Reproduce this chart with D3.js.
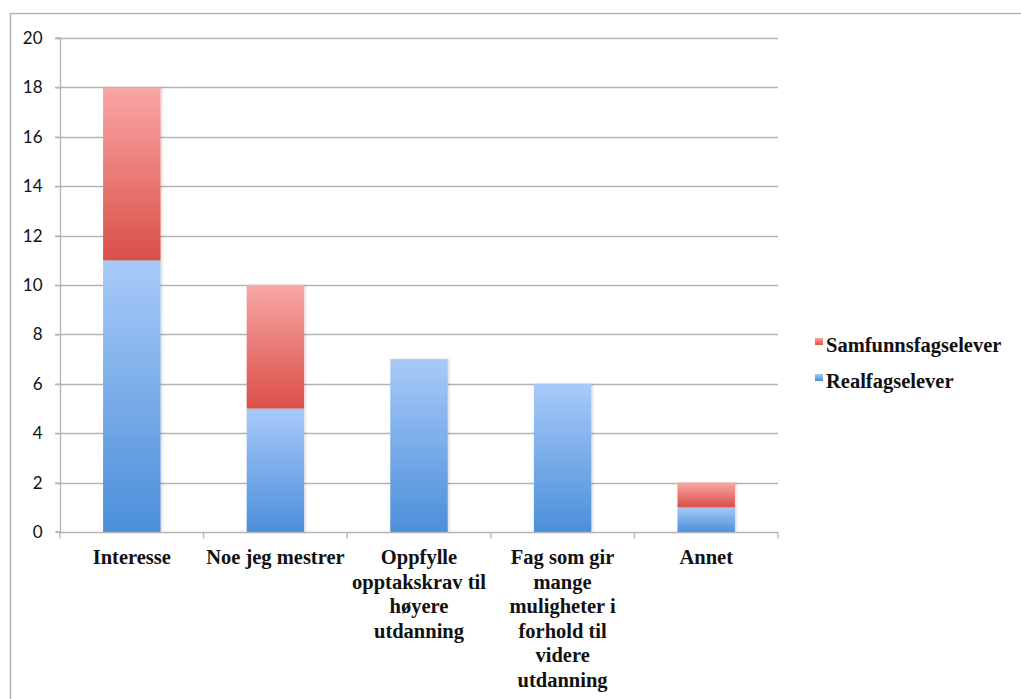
<!DOCTYPE html>
<html>
<head>
<meta charset="utf-8">
<script src="https://cdn.jsdelivr.net/npm/d3@7"></script>
<style>
  body { margin: 0; background: #fff; }
  svg { display: block; }
</style>
</head>
<body>
<svg id="chart" width="1021" height="699"></svg>
<script>
const categories = ["Interesse", "Noe jeg mestrer", "Oppfylle opptakskrav til høyere utdanning", "Fag som gir mange muligheter i forhold til videre utdanning", "Annet"];
const categoryLines = [
    ["Interesse"],
    ["Noe jeg mestrer"],
    ["Oppfylle", "opptakskrav til", "høyere", "utdanning"],
    ["Fag som gir", "mange", "muligheter i", "forhold til", "videre", "utdanning"],
    ["Annet"]
];
const realfag = [11, 5, 7, 6, 1];
const samfunn = [7, 5, 0, 0, 1];
const seriesNames = ["Realfagselever", "Samfunnsfagselever"];
const yTicks = [0, 2, 4, 6, 8, 10, 12, 14, 16, 18, 20];

const svg = d3.select("#chart");
const margin = { left: 60, right: 243, top: 38, bottom: 167 };
const width = 1021, height = 699;

// outer frame
svg.append("path")
    .attr("d", "M10.5,699 V13.5 H1021")
    .attr("fill", "none")
    .attr("stroke", "#b3b3b3")
    .attr("stroke-width", 1.5);

const defs = svg.append("defs");
function grad(id, top, bottom) {
    const g = defs.append("linearGradient").attr("id", id)
        .attr("x1", 0).attr("y1", 0).attr("x2", 0).attr("y2", 1);
    g.append("stop").attr("offset", "0%").attr("stop-color", top);
    g.append("stop").attr("offset", "100%").attr("stop-color", bottom);
}
grad("gBlue", "#a8caf9", "#4b8fd9");
grad("gRed", "#f9a7a5", "#da4f48");

const filt = defs.append("filter").attr("id", "shadow")
    .attr("x", "-10%").attr("y", "-10%").attr("width", "130%").attr("height", "130%");
filt.append("feDropShadow").attr("dx", 1.5).attr("dy", 0).attr("stdDeviation", 1.2)
    .attr("flood-color", "#000").attr("flood-opacity", 0.15);

const x = d3.scaleBand()
    .domain(categories)
    .range([margin.left, width - margin.right])
    .paddingInner(0.6)
    .paddingOuter(0.3);

const xOuter = d3.scaleBand()
    .domain(categories)
    .range([margin.left, width - margin.right]);

const y = d3.scaleLinear()
    .domain([0, 20])
    .range([height - margin.bottom, margin.top]);

// gridlines
svg.append("g")
    .selectAll("line")
    .data(yTicks.filter(d => d > 0))
    .join("line")
    .attr("x1", margin.left - 5)
    .attr("x2", width - margin.right)
    .attr("y1", d => Math.round(y(d)) + 0.5)
    .attr("y2", d => Math.round(y(d)) + 0.5)
    .attr("stroke", "#b3b3b3")
    .attr("stroke-width", 1.3);

// y axis
const yAxis = svg.append("g")
    .attr("transform", `translate(${margin.left + 0.5},0)`)
    .call(d3.axisLeft(y).tickValues(yTicks).tickSize(5).tickPadding(13));
yAxis.selectAll("path, line").attr("stroke", "#b3b3b3").attr("stroke-width", 1.3);
yAxis.select(".domain").attr("d", `M-5,${y(0)}H0V${y(20)}H-5`);
yAxis.attr("font-family", "Lato, sans-serif").attr("font-size", 17);
yAxis.selectAll("text").attr("fill", "#111");

// bars
const stacked = categories.map((c, i) => ({ cat: c, r: realfag[i], s: samfunn[i] }));
const barG = svg.append("g");
stacked.forEach(d => {
    if (d.r > 0) {
        barG.append("rect")
            .attr("x", x(d.cat)).attr("width", x.bandwidth())
            .attr("y", y(d.r)).attr("height", y(0) - y(d.r))
            .attr("fill", "url(#gBlue)").attr("filter", "url(#shadow)");
    }
    if (d.s > 0) {
        barG.append("rect")
            .attr("x", x(d.cat)).attr("width", x.bandwidth())
            .attr("y", y(d.r + d.s)).attr("height", y(d.r) - y(d.r + d.s))
            .attr("fill", "url(#gRed)").attr("filter", "url(#shadow)");
    }
});

// x axis
const xAxisG = svg.append("g").attr("transform", `translate(0,${Math.round(y(0)) + 0.5})`);
xAxisG.append("line")
    .attr("x1", margin.left).attr("x2", width - margin.right)
    .attr("stroke", "#b3b3b3").attr("stroke-width", 1.3);
const bounds = categories.map(c => xOuter(c)).concat([width - margin.right]);
xAxisG.selectAll(".tk").data(bounds).join("line")
    .attr("x1", d => d).attr("x2", d => d)
    .attr("y1", 0).attr("y2", 6)
    .attr("stroke", "#b3b3b3").attr("stroke-width", 1.3);

const labels = svg.append("g")
    .attr("font-family", "Liberation Serif, Times New Roman, serif")
    .attr("font-weight", "bold")
    .attr("font-size", 20.5)
    .attr("fill", "#111")
    .attr("text-anchor", "middle");
categories.forEach((c, i) => {
    const t = labels.append("text")
        .attr("x", xOuter(c) + xOuter.bandwidth() / 2)
        .attr("y", y(0) + 32);
    categoryLines[i].forEach((line, j) => {
        t.append("tspan")
            .attr("x", xOuter(c) + xOuter.bandwidth() / 2)
            .attr("dy", j === 0 ? 0 : 24.5)
            .text(line);
    });
});

// legend
const legend = svg.append("g")
    .attr("font-family", "Liberation Serif, Times New Roman, serif")
    .attr("font-weight", "bold")
    .attr("font-size", 20.5)
    .attr("fill", "#111");
const legendItems = [
    { name: seriesNames[1], fill: "url(#gRed)", y: 352 },
    { name: seriesNames[0], fill: "url(#gBlue)", y: 388 }
];
legendItems.forEach(d => {
    legend.append("rect")
        .attr("x", 815).attr("y", d.y - 14)
        .attr("width", 8).attr("height", 7)
        .attr("fill", d.fill);
    legend.append("text")
        .attr("x", 826).attr("y", d.y)
        .text(d.name);
});
</script>
</body>
</html>
